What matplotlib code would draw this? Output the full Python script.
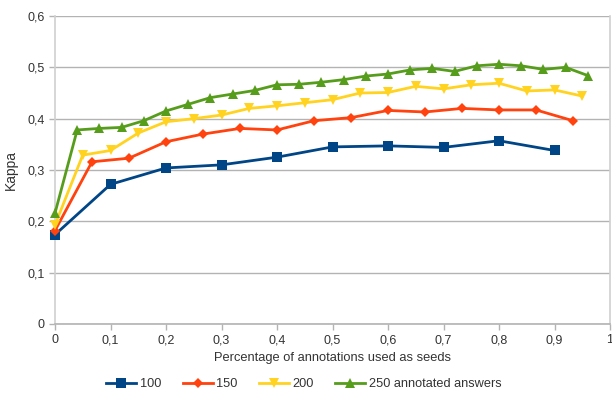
import matplotlib
matplotlib.use("Agg")
import matplotlib.pyplot as plt
import numpy as np

plt.rcParams['font.family'] = ['Liberation Sans', 'DejaVu Sans']

x100 = [0, 0.1, 0.2, 0.3, 0.4, 0.5, 0.6, 0.7, 0.8, 0.9]
y100 = [0.174, 0.272, 0.304, 0.310, 0.325, 0.345, 0.347, 0.344, 0.357, 0.338]

x150 = [0, 1/15, 2/15, 3/15, 4/15, 5/15, 6/15, 7/15, 8/15, 9/15, 10/15, 11/15, 12/15, 13/15, 14/15]
y150 = [0.182, 0.316, 0.323, 0.355, 0.370, 0.381, 0.378, 0.396, 0.402, 0.416, 0.413, 0.420, 0.417, 0.417, 0.396]

x200 = [0, 0.05, 0.1, 0.15, 0.2, 0.25, 0.3, 0.35, 0.4, 0.45, 0.5, 0.55, 0.6, 0.65, 0.7, 0.75, 0.8, 0.85, 0.9, 0.95]
y200 = [0.193, 0.329, 0.338, 0.372, 0.394, 0.400, 0.407, 0.420, 0.425, 0.431, 0.437, 0.450, 0.451, 0.463, 0.458, 0.466, 0.469, 0.454, 0.456, 0.444]

x250 = [0, 0.04, 0.08, 0.12, 0.16, 0.2, 0.24, 0.28, 0.32, 0.36, 0.4, 0.44, 0.48, 0.52, 0.56, 0.6, 0.64, 0.68, 0.72, 0.76, 0.8, 0.84, 0.88, 0.92, 0.96]
y250 = [0.216, 0.378, 0.381, 0.383, 0.396, 0.415, 0.428, 0.441, 0.448, 0.455, 0.466, 0.467, 0.471, 0.476, 0.483, 0.487, 0.495, 0.498, 0.492, 0.503, 0.506, 0.503, 0.496, 0.500, 0.484]

labels = ["100", "150", "200", "250 annotated answers"]
colors = ["#004586", "#ff420e", "#ffd320", "#579d1c"]
xticks = [0, 0.1, 0.2, 0.3, 0.4, 0.5, 0.6, 0.7, 0.8, 0.9, 1]
xticklabels = ["0", "0,1", "0,2", "0,3", "0,4", "0,5", "0,6", "0,7", "0,8", "0,9", "1"]
yticks = [0, 0.1, 0.2, 0.3, 0.4, 0.5, 0.6]
yticklabels = ["0", "0,1", "0,2", "0,3", "0,4", "0,5", "0,6"]

fig = plt.figure(figsize=(6.12, 3.94), dpi=100)
ax = fig.add_axes([55/612, 1-324/394, 555/612, 308/394])

series = [(x100, y100, 's', 6.5), (x150, y150, 'D', 5.5), (x200, y200, 'v', 7), (x250, y250, '^', 7)]
for (xs, ys, m, ms), lab, c in zip(series, labels, colors):
    ax.plot(xs, ys, color=c, marker=m, markersize=ms, linewidth=2, label=lab,
            markeredgewidth=0, clip_on=False, zorder=3)

ax.set_xlim(0, 1)
ax.set_ylim(0, 0.6)
ax.set_xticks(xticks)
ax.set_xticklabels(xticklabels)
ax.set_yticks(yticks)
ax.set_yticklabels(yticklabels)
ax.yaxis.grid(True, color="#b3b3b3", linewidth=1)
ax.set_axisbelow(True)
ax.spines['top'].set_visible(False)
for s in ['left', 'right', 'bottom']:
    ax.spines[s].set_color("#d0d0d0")
    ax.spines[s].set_linewidth(1.2)
ax.spines['bottom'].set_color("#b3b3b3")
ax.tick_params(axis='both', colors="#b3b3b3", labelcolor="#333333", labelsize=9, length=4, width=1)

ax.set_xlabel("Percentage of annotations used as seeds", fontsize=9.3, color="#333333", labelpad=4)
ax.set_ylabel("Kappa", fontsize=10, color="#333333", labelpad=7)

ax.legend(loc='center', bbox_to_anchor=(304/612, 1 - 384/394), bbox_transform=fig.transFigure,
          ncol=4, frameon=False, fontsize=9.2, handlelength=2.35, columnspacing=1.65, handletextpad=0.3,
          labelcolor="#333333", borderpad=0)

fig.savefig("out.png", dpi=100)
